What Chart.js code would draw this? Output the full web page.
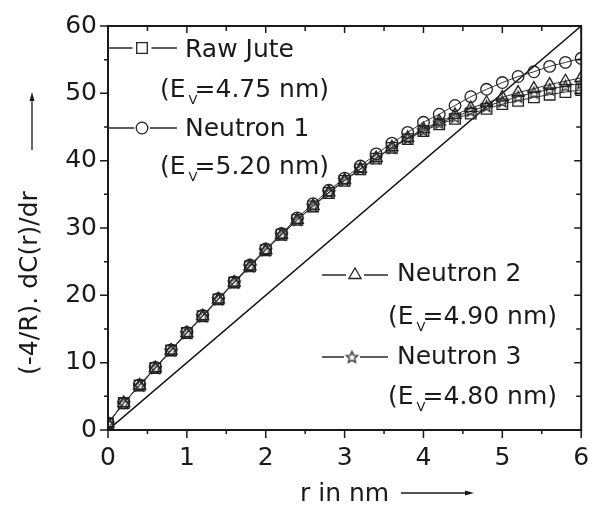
<!DOCTYPE html>
<html>
<head>
<meta charset="utf-8">
<script src="https://cdn.jsdelivr.net/npm/chart.js@4.4.0/dist/chart.umd.min.js"></script>
<style>html,body{margin:0;padding:0;background:#fff}</style>
</head>
<body>
<canvas id="c" width="590" height="508"></canvas>
<script>
// r (nm) sampling positions
const rValues = [0, 0.2, 0.4, 0.6, 0.8, 1.0, 1.2, 1.4, 1.6, 1.8, 2.0, 2.2, 2.4, 2.6, 2.8, 3.0,
                 3.2, 3.4, 3.6, 3.8, 4.0, 4.2, 4.4, 4.6, 4.8, 5.0, 5.2, 5.4, 5.6, 5.8, 6.0];

// (-4/R).dC(r)/dr for each sample
const rawJute  = [1.0, 4.0, 6.6, 9.2, 11.8, 14.4, 16.9, 19.4, 21.9, 24.3, 26.7, 29.0, 31.2, 33.2, 35.2, 37.0,
                  38.7, 40.3, 41.9, 43.2, 44.4, 45.4, 46.2, 47.0, 47.7, 48.4, 48.9, 49.4, 49.8, 50.2, 50.5];
const neutron1 = [1.0, 4.0, 6.7, 9.3, 11.9, 14.5, 17.0, 19.5, 22.0, 24.5, 26.9, 29.2, 31.5, 33.6, 35.6, 37.4,
                  39.2, 41.0, 42.6, 44.2, 45.7, 46.9, 48.2, 49.5, 50.6, 51.6, 52.5, 53.2, 54.0, 54.6, 55.2];
const neutron2 = [1.0, 4.0, 6.6, 9.2, 11.8, 14.4, 16.9, 19.4, 21.9, 24.3, 26.7, 29.0, 31.2, 33.3, 35.3, 37.1,
                  38.8, 40.4, 42.0, 43.4, 44.7, 45.8, 46.8, 47.8, 48.6, 49.4, 50.1, 50.7, 51.3, 51.8, 52.3];
const neutron3 = [1.0, 4.0, 6.6, 9.2, 11.8, 14.4, 16.9, 19.4, 21.9, 24.3, 26.7, 29.0, 31.2, 33.3, 35.3, 37.1,
                  38.8, 40.4, 41.9, 43.3, 44.5, 45.6, 46.5, 47.4, 48.1, 48.8, 49.5, 50.1, 50.6, 51.1, 51.5];

// reference straight line
const refLineX = [0, 6];
const refLineY = [0, 60];

const seriesNames = ['Raw Jute', 'Neutron 1', 'Neutron 2', 'Neutron 3'];
const evValues    = ['4.75 nm', '5.20 nm', '4.90 nm', '4.80 nm'];

const xTitle = 'r in nm';
const yTitle = '(-4/R). dC(r)/dr';

const FONT = 'DejaVu Sans';
const FS = 25;
const INK = '#1a1a1a';

// five-pointed hollow star used as a point style
function starImage(outer, inner, lw, color) {
  const s = Math.ceil(outer * 2 + lw * 2 + 2);
  const c = document.createElement('canvas');
  c.width = s; c.height = s;
  const g = c.getContext('2d');
  g.translate(s / 2, s / 2 + 0.5);
  g.beginPath();
  for (let i = 0; i < 10; i++) {
    const r = i % 2 ? inner : outer;
    const a = -Math.PI / 2 + i * Math.PI / 5;
    g.lineTo(r * Math.cos(a), r * Math.sin(a));
  }
  g.closePath();
  g.strokeStyle = color; g.lineWidth = lw; g.stroke();
  return c;
}
const STAR = starImage(6, 2.7, 1.3, '#222');

const pts = ys => rValues.map((r, i) => ({ x: r, y: ys[i] }));
const markerDefs = [
  { style: 'rect', radius: 7.5 },
  { style: 'circle', radius: 5.8 },
  { style: 'triangle', radius: 7 },
  { style: STAR, radius: 6 }
];
const seriesData = [rawJute, neutron1, neutron2, neutron3];

const datasets = seriesData.map((ys, i) => ({
  label: seriesNames[i],
  data: pts(ys),
  borderColor: '#333',
  borderWidth: 1,
  pointStyle: markerDefs[i].style,
  pointRadius: markerDefs[i].radius,
  pointBorderColor: '#222',
  pointBackgroundColor: 'rgba(0,0,0,0)',
  pointBorderWidth: 1.3,
  tension: 0
}));
datasets.push({
  label: 'reference',
  data: refLineX.map((x, i) => ({ x, y: refLineY[i] })),
  borderColor: '#111',
  borderWidth: 1.5,
  pointRadius: 0,
  tension: 0
});

function arrow(ctx, x1, y1, x2, y2) {
  const ang = Math.atan2(y2 - y1, x2 - x1);
  ctx.beginPath(); ctx.moveTo(x1, y1); ctx.lineTo(x2 - 6 * Math.cos(ang), y2 - 6 * Math.sin(ang)); ctx.stroke();
  ctx.beginPath();
  ctx.moveTo(x2, y2);
  ctx.lineTo(x2 - 9 * Math.cos(ang) + 2.5 * Math.sin(ang), y2 - 9 * Math.sin(ang) - 2.5 * Math.cos(ang));
  ctx.lineTo(x2 - 9 * Math.cos(ang) - 2.5 * Math.sin(ang), y2 - 9 * Math.sin(ang) + 2.5 * Math.cos(ang));
  ctx.closePath(); ctx.fill();
}

function evText(ctx, x, y, value) {
  ctx.textAlign = 'left'; ctx.textBaseline = 'middle';
  ctx.font = FS + 'px "' + FONT + '"';
  ctx.fillText('(E', x, y);
  const w = ctx.measureText('(E').width;
  ctx.font = '13px "' + FONT + '"';
  ctx.fillText('V', x + w + 3, y + 11);
  ctx.font = FS + 'px "' + FONT + '"';
  ctx.fillText('=' + value + ')', x + w + 9, y);
}

const decor = {
  id: 'decor',
  afterDraw(chart) {
    const { ctx, chartArea: a, scales: { x, y } } = chart;
    ctx.save();
    ctx.strokeStyle = INK; ctx.fillStyle = INK;

    // frame
    ctx.lineWidth = 2;
    ctx.strokeRect(a.left, a.top, a.right - a.left, a.bottom - a.top);

    // tick marks: outward on bottom/left, inward on top/right
    ctx.lineWidth = 1.5;
    ctx.beginPath();
    for (let k = 0; k <= 12; k++) {
      const v = k * 0.5, px = x.getPixelForValue(v), major = k % 2 === 0;
      ctx.moveTo(px, a.bottom); ctx.lineTo(px, a.bottom + (major ? 8 : 4));
      ctx.moveTo(px, a.top); ctx.lineTo(px, a.top + (major ? 7 : 5));
    }
    for (let k = 0; k <= 12; k++) {
      const v = k * 5, py = y.getPixelForValue(v), major = k % 2 === 0;
      ctx.moveTo(a.left, py); ctx.lineTo(a.left - (major ? 8 : 4), py);
      ctx.moveTo(a.right, py); ctx.lineTo(a.right - (major ? 7 : 5), py);
    }
    ctx.stroke();

    // axis titles with arrows
    ctx.font = FS + 'px "' + FONT + '"';
    ctx.textAlign = 'left'; ctx.textBaseline = 'middle';
    ctx.fillText(xTitle, 300, 494);
    ctx.lineWidth = 1.3;
    arrow(ctx, 401, 493, 474, 493);

    ctx.save();
    ctx.translate(30, 283);
    ctx.rotate(-Math.PI / 2);
    ctx.textAlign = 'center';
    ctx.fillText(yTitle, 0, 0);
    ctx.restore();
    arrow(ctx, 32, 150, 32, 92);

    // legend
    const rows = [
      { lx1: a.left, lx2: 177, mx: 142, ly: 48, tx: 185, ty: 50, ex: 160, ey: 90 },
      { lx1: a.left, lx2: 177, mx: 142, ly: 128, tx: 185, ty: 129, ex: 160, ey: 167 },
      { lx1: 322, lx2: 388, mx: 355, ly: 275, tx: 397, ty: 274, ex: 388, ey: 317 },
      { lx1: 322, lx2: 388, mx: 352, ly: 357, tx: 397, ty: 357, ex: 388, ey: 397 }
    ];
    rows.forEach((r, i) => {
      const m = markerDefs[i];
      ctx.strokeStyle = '#2a2a2a'; ctx.lineWidth = 1.3;
      ctx.beginPath();
      ctx.moveTo(r.lx1, r.ly); ctx.lineTo(r.mx - m.radius - 2, r.ly);
      ctx.moveTo(r.mx + m.radius + 2, r.ly); ctx.lineTo(r.lx2, r.ly);
      ctx.stroke();
      ctx.strokeStyle = '#222';
      ctx.fillStyle = 'rgba(0,0,0,0)';
      Chart.helpers.drawPoint(ctx, {
        pointStyle: m.style, radius: m.radius, borderWidth: 1.3, rotation: 0
      }, r.mx, r.ly);
      ctx.fillStyle = INK;
      ctx.font = FS + 'px "' + FONT + '"';
      ctx.textAlign = 'left'; ctx.textBaseline = 'middle';
      ctx.fillText(seriesNames[i], r.tx, r.ty);
      evText(ctx, r.ex, r.ey, evValues[i]);
    });
    ctx.restore();
  }
};

Chart.defaults.font.family = FONT;
Chart.defaults.color = INK;

new Chart(document.getElementById('c'), {
  type: 'line',
  data: { datasets },
  options: {
    responsive: false,
    animation: false,
    devicePixelRatio: 1,
    layout: { padding: { left: 0, top: 26, right: 7, bottom: 0 } },
    plugins: { legend: { display: false }, tooltip: { enabled: false } },
    elements: { line: { fill: false } },
    scales: {
      x: {
        type: 'linear', min: 0, max: 6,
        grid: { display: false, drawTicks: false, tickLength: 0 },
        border: { display: false },
        ticks: { stepSize: 1, padding: 13, font: { size: FS }, color: INK, maxRotation: 0 },
        afterFit(s) { s.height = 78; s.paddingLeft = 0; s.paddingRight = 0; }
      },
      y: {
        type: 'linear', min: 0, max: 60,
        grid: { display: false, drawTicks: false, tickLength: 0 },
        border: { display: false },
        ticks: { stepSize: 10, padding: 11, font: { size: FS }, color: INK },
        afterFit(s) { s.width = 108; s.paddingTop = 0; s.paddingBottom = 0; }
      }
    }
  },
  plugins: [decor]
});
</script>
</body>
</html>
